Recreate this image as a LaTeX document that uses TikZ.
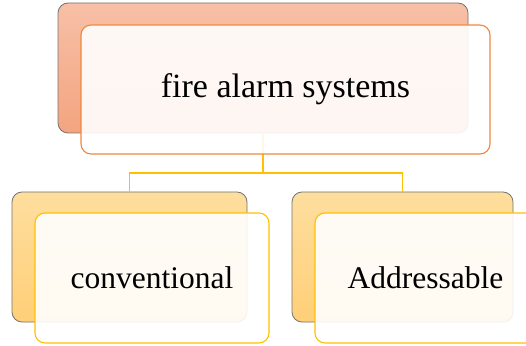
\documentclass[tikz,border=0pt]{standalone}
\usepackage{fontspec}
\setmainfont{Liberation Serif}
\definecolor{salmonTop}{HTML}{F7C0A7}
\definecolor{salmonBot}{HTML}{F4A47F}
\definecolor{goldTop}{HTML}{FEDE9E}
\definecolor{goldBot}{HTML}{FFCF78}
\definecolor{orangeLine}{HTML}{F0883A}
\definecolor{goldLine}{HTML}{FFC000}
\begin{document}
\begin{tikzpicture}[x=1pt, y=1pt,
  back/.style={draw=black!55, line width=0.8pt, rounded corners=10pt, inner sep=0pt},
  front/.style={fill=white, fill opacity=0.9, text opacity=1, line width=1.1pt, rounded corners=10pt, inner sep=0pt},
  link/.style={goldLine, line width=1.6pt}]
\useasboundingbox (0,0) rectangle (526,345);
\clip (0,0) rectangle (526,345);
% back cards
\node[back, top color=salmonTop, bottom color=salmonBot, minimum width=410, minimum height=130] (TopBack) at (263,277) {};
\node[back, top color=goldTop, bottom color=goldBot, minimum width=235, minimum height=130] (LeftBack) at (129.5,88) {};
\node[back, top color=goldTop, bottom color=goldBot, minimum width=221, minimum height=130] (RightBack) at (402.5,88) {};
% connectors
\coordinate (Bus) at (263,172);
\draw[link] (TopBack.south) -- (Bus);
\draw[link] (Bus) -| (LeftBack.north);
\draw[link] (Bus) -| (RightBack.north);
% front cards
\node[front, draw=orangeLine, minimum width=409, minimum height=129, font=\fontsize{34}{40}\selectfont] (TopFront) at (285.5,255.5) {fire alarm systems};
\node[front, draw=goldLine, minimum width=234, minimum height=130, font=\fontsize{31.5}{38}\selectfont] (LeftFront) at (152,67) {conventional};
\node[front, draw=goldLine, minimum width=221, minimum height=130, font=\fontsize{31.5}{38}\selectfont] (RightFront) at (425.5,67) {Addressable};
\end{tikzpicture}
\end{document}
